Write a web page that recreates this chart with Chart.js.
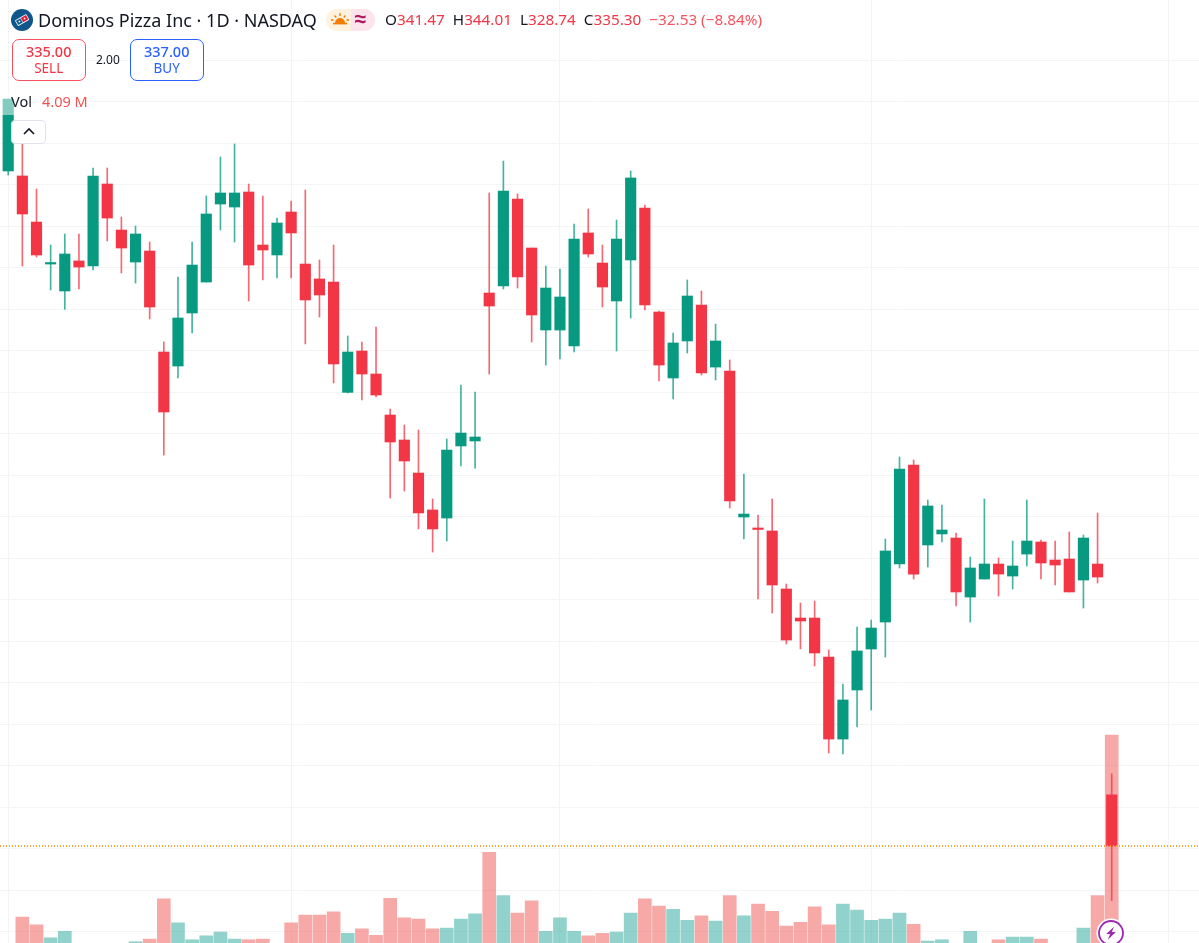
<!DOCTYPE html>
<html><head><meta charset="utf-8">
<script src="https://cdn.jsdelivr.net/npm/chart.js@4"></script>
<style>
html,body{margin:0;padding:0;background:#fff;overflow:hidden;width:1199px;height:943px}
#wrap{position:relative;width:1199px;height:943px;font-family:"Noto Sans",sans-serif;color:#131722}
canvas{position:absolute;left:0;top:0}
.o{position:absolute;white-space:nowrap;line-height:1}
.box{position:absolute;box-sizing:border-box;width:74.5px;height:42px;top:39px;border:1px solid;border-radius:7px;background:#fff;text-align:center}
.box b{display:block;font-weight:500;font-size:14.5px;line-height:15px;margin-top:4px}
.box span{display:block;font-size:13.5px;line-height:15px;margin-top:2px}
.r{color:#f23645}
</style></head><body>
<div id="wrap">
<canvas id="c" width="1199" height="943"></canvas>
<div class="o" style="left:0;top:92px;width:92px;height:23px;background:rgba(255,255,255,.5)"></div>
<svg class="o" style="left:11px;top:9px" width="22" height="22" viewBox="0 0 22 22"><circle cx="11" cy="11" r="11" fill="#10568b"/><g transform="rotate(-30 11 11)"><rect x="4.5" y="7.8" width="13" height="6.6" rx="1" fill="#fff"/><rect x="11" y="8.6" width="5.8" height="5" fill="#e31837"/><rect x="5.3" y="8.6" width="5.2" height="5" fill="#0b5f99"/><circle cx="8" cy="11" r=".9" fill="#fff"/><circle cx="14" cy="11" r=".9" fill="#fff"/></g></svg>
<div class="o" id="title" style="left:38px;top:11px;font-size:18px">Dominos Pizza Inc · 1D · NASDAQ</div>
<div class="o" style="left:326px;top:9px;width:25px;height:22px;background:#fff3e0;border-radius:11px 0 0 11px"></div>
<div class="o" style="left:351px;top:9px;width:24px;height:22px;background:#fce4ec;border-radius:0 11px 11px 0"></div>
<svg class="o" style="left:330px;top:10px" width="20" height="18" viewBox="0 0 20 18"><path d="M5 13a5 5 0 0 1 10 0z" fill="#f57c00"/><rect x="3" y="12.8" width="14" height="1.6" fill="#f57c00"/><path d="M10 3v3M4.5 5.5l1.8 2M15.5 5.5l-1.8 2M1 10h2.5M16.5 10H19" stroke="#f57c00" stroke-width="1.4"/></svg>
<div class="o" style="left:354.5px;top:8px;font-size:21px;color:#b0155f;font-weight:700">≈</div>
<div class="o" id="ohlc" style="left:385px;top:12px;font-size:15.3px"><span>O</span><span class="r">341.47</span>&nbsp;&nbsp;<span>H</span><span class="r">344.01</span>&nbsp;&nbsp;<span>L</span><span class="r">328.74</span>&nbsp;&nbsp;<span>C</span><span class="r">335.30</span>&nbsp;&nbsp;<span style="color:#f7525f">−32.53 (−8.84%)</span></div>
<div class="box" style="left:11.5px;border-color:#f7525f;color:#f23645"><b>335.00</b><span>SELL</span></div>
<div class="o" style="left:96px;top:54px;font-size:12px">2.00</div>
<div class="box" style="left:129.5px;border-color:#2962ff;color:#2962ff"><b>337.00</b><span>BUY</span></div>
<div class="o" style="left:11px;top:94px;font-size:14.5px">Vol</div>
<div class="o" style="left:42px;top:94px;font-size:14.5px;color:#ef5350">4.09 M</div>
<div class="o" style="left:11px;top:120px;width:35px;height:24px;box-sizing:border-box;border:1px solid #e0e3eb;border-radius:4px;background:#fff"></div>
<svg class="o" style="left:22px;top:126px" width="14" height="10" viewBox="0 0 14 10"><path d="M2 8l5-5 5 5" fill="none" stroke="#131722" stroke-width="1.6"/></svg>
<svg class="o" style="left:1096px;top:918px" width="30" height="30" viewBox="0 0 30 30"><circle cx="15" cy="15" r="14.5" fill="#fff"/><circle cx="15" cy="15" r="12" fill="#fff" stroke="#9c27b0" stroke-width="1.8"/><path d="M18.2 8.5l-8 7.6h4l-2.4 5.6 8-7.6h-4z" fill="#9c27b0"/></svg>
</div>
<script>
const opens=[416.63,416.03,410.48,405.42,402.17,405.79,405.18,415.06,409.52,405.66,406.99,394.82,393.13,399.52,403.25,412.65,412.29,414.10,407.71,406.51,411.69,405.42,403.62,403.25,389.96,394.94,392.17,387.23,384.22,380.24,375.79,374.82,383.50,384.10,401.93,402.77,413.25,407.35,397.47,397.47,395.54,409.16,405.54,400.97,405.91,412.17,399.64,391.69,396.15,400.48,393.01,392.53,374.94,373.50,373.26,366.27,362.77,362.77,358.07,348.19,354.10,359.04,362.29,369.28,381.21,371.57,372.90,372.41,365.30,367.47,369.28,367.83,370.48,371.93,369.76,369.88,367.35,369.28,341.47];
const highs=[425.30,421.57,414.46,407.71,409.04,409.04,416.99,416.99,411.09,410.00,408.07,396.03,403.86,408.07,413.62,418.32,419.88,415.06,413.62,410.96,413.01,414.34,405.91,407.71,396.75,396.03,397.83,387.95,386.03,385.42,377.11,384.34,390.85,390.00,413.98,417.83,413.86,407.35,405.18,404.82,410.24,412.05,407.71,410.72,416.63,412.53,399.76,397.11,403.50,402.17,398.19,393.86,380.12,375.18,377.11,366.87,364.58,364.82,358.92,354.82,361.69,362.53,372.29,382.17,381.81,376.99,376.39,373.01,370.12,377.11,370.00,372.05,376.99,372.17,372.05,373.14,372.77,375.42,344.01];
const lows=[416.15,405.18,406.27,402.29,399.96,402.41,404.70,408.19,404.34,403.13,398.80,382.41,391.69,397.11,403.25,409.52,408.07,400.97,403.50,403.74,403.74,395.79,399.04,391.09,389.88,389.04,389.40,377.23,378.07,373.50,370.72,372.05,381.09,380.84,392.17,402.41,402.53,396.03,393.25,393.98,394.82,406.27,400.24,394.94,398.92,399.88,391.33,389.16,394.70,392.05,391.45,376.03,372.29,365.06,363.38,359.64,359.04,356.99,346.51,346.39,349.64,351.69,358.07,368.80,367.47,368.92,371.93,364.22,362.29,367.47,365.42,366.27,369.04,367.47,366.75,365.91,363.98,366.99,328.74];
const closes=[425.30,411.45,406.51,405.54,406.63,405.06,416.03,410.96,407.35,409.04,400.24,387.59,398.92,405.30,411.45,413.98,413.98,405.30,407.11,410.36,409.16,401.09,401.69,393.38,394.82,392.17,389.64,383.98,381.69,375.43,373.50,383.01,385.06,384.58,400.36,414.22,403.86,399.28,402.53,401.45,408.43,406.63,402.65,408.43,415.79,400.48,393.25,395.91,401.57,392.29,396.15,376.87,375.30,373.44,366.75,360.12,362.41,358.56,348.19,352.90,358.80,361.57,370.85,380.72,368.07,376.27,373.38,365.91,368.80,369.28,368.07,369.04,372.05,369.40,369.16,365.91,372.41,367.71,335.30];
const volumesM=[0.75,1.28,1.16,0.96,1.06,0.70,0.78,0.72,0.65,0.90,0.94,1.56,1.19,0.93,0.99,1.05,0.94,0.93,0.94,0.80,1.19,1.31,1.31,1.36,1.03,1.10,1.00,1.57,1.27,1.25,1.10,1.11,1.25,1.33,2.28,1.61,1.34,1.53,1.06,1.27,1.06,0.99,1.03,1.05,1.34,1.56,1.45,1.40,1.23,1.30,1.22,1.61,1.30,1.48,1.37,1.14,1.20,1.44,1.16,1.48,1.39,1.23,1.25,1.34,1.17,0.91,0.93,0.75,1.06,0.80,0.93,0.97,0.97,0.94,0.78,0.72,1.11,1.61,4.09];
const priceTicks=[335,340,345,350,355,360,365,370,375,380,385,390,395,400,405,410,415,420,425,430,330,325];
const monthTicks=[0,20,39,61,82];
const lastPrice=335.30;
const UP='#089981',DOWN='#f23645',UPW='rgba(8,153,129,.75)',DOWNW='rgba(242,54,69,.75)',UPV='rgba(38,166,154,.5)',DOWNV='rgba(239,83,80,.5)';
const XMIN=-0.58,XMAX=84.17;
const isUp=i=>closes[i]>=opens[i];
new Chart(document.getElementById('c'),{
  type:'bar',
  data:{datasets:[
    {type:'line',order:0,data:[{x:XMIN,y:lastPrice},{x:XMAX,y:lastPrice}],borderColor:'#ffa726',borderWidth:2,borderDash:[1,2],pointRadius:0,yAxisID:'y',clip:false},
    {order:1,data:opens.map((o,i)=>({x:i,y:[o,closes[i]]})),backgroundColor:opens.map((o,i)=>isUp(i)?UP:DOWN),barThickness:10.5,minBarLength:1.5,yAxisID:'y',grouped:false},
    {order:2,data:lows.map((l,i)=>({x:i,y:[l,highs[i]]})),backgroundColor:lows.map((l,i)=>isUp(i)?UPW:DOWNW),barThickness:1,yAxisID:'y',grouped:false},
    {order:3,data:volumesM.map((v,i)=>({x:i,y:v})),backgroundColor:volumesM.map((v,i)=>isUp(i)?UPV:DOWNV),barThickness:13,yAxisID:'v',grouped:false}
  ]},
  options:{
    responsive:false,animation:false,events:[],
    layout:{padding:0},
    plugins:{legend:{display:false},tooltip:{enabled:false}},
    scales:{
      x:{type:'linear',offset:false,min:XMIN,max:XMAX,
        afterBuildTicks:s=>{s.ticks=monthTicks.map(v=>({value:v}))},
        ticks:{display:false},border:{display:false},
        grid:{color:'#f3f4f6',lineWidth:1,drawTicks:false,offset:false}},
      y:{type:'linear',position:'right',min:323.62,max:437.23,
        afterBuildTicks:s=>{s.ticks=priceTicks.map(v=>({value:v}))},
        ticks:{display:false},border:{display:false},
        grid:{color:'#f3f4f6',lineWidth:1,drawTicks:false}},
      v:{type:'linear',display:false,min:0.88,max:15.434}
    }
  }
});
</script>
</body></html>
